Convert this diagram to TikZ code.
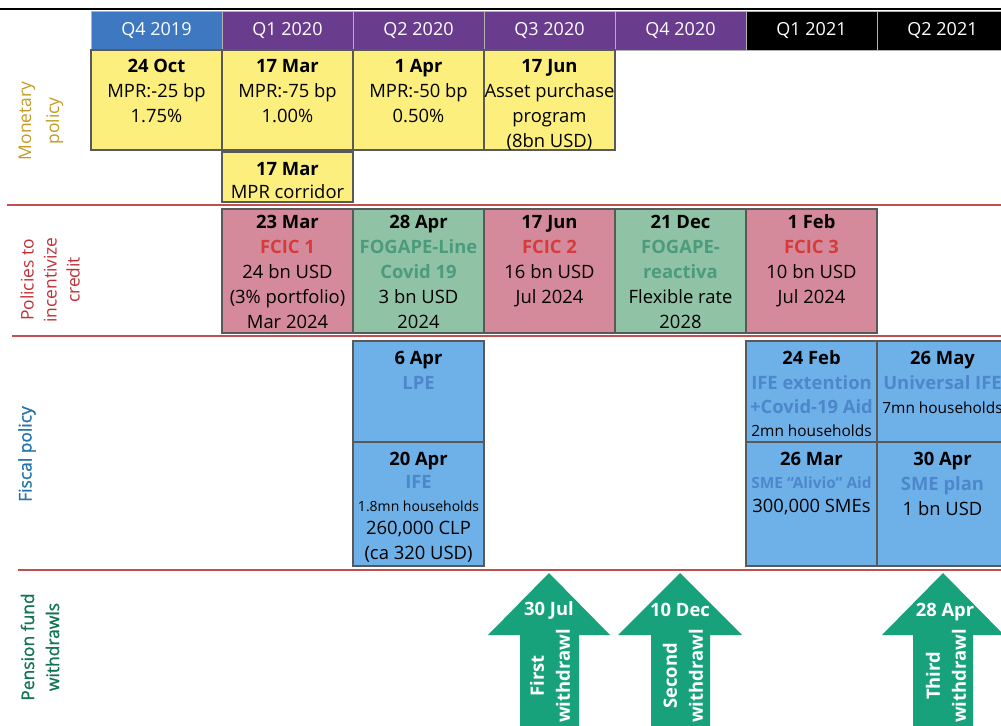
\documentclass[tikz,border=0pt]{standalone}
\usepackage{fontspec}
\setmainfont{Open Sans}
\usetikzlibrary{positioning}
\definecolor{qblue}{HTML}{3D78C1}
\definecolor{qpurple}{HTML}{6A3C8E}
\definecolor{monyellow}{HTML}{FCEF7E}
\definecolor{crdpink}{HTML}{D58A9B}
\definecolor{crdgreen}{HTML}{90C2A6}
\definecolor{fisblue}{HTML}{6EB1E8}
\definecolor{arrgreen}{HTML}{17A27C}
\definecolor{sepred}{HTML}{C0504D}
\definecolor{lblgold}{HTML}{C49A22}
\definecolor{lblred}{HTML}{BF3036}
\definecolor{lblblue}{HTML}{2475AE}
\definecolor{lblgreen}{HTML}{137452}
\definecolor{txtred}{HTML}{D63B3B}
\definecolor{txtgreen}{HTML}{4C9B7C}
\definecolor{txtblue}{HTML}{4E86CB}
\definecolor{boxframe}{HTML}{595959}
\newcommand{\evt}[3][11]{\parbox[c][#2][t]{65.5pt}{\centering\rule{0pt}{#1pt}#3}}
\newcommand{\evhl}[2]{\textbf{\color{#1}#2}}
\newcommand{\smtxt}[1]{{\fontsize{7.7}{9}\selectfont #1}}

\begin{document}
\begin{tikzpicture}[x=0.5pt,y=-0.5pt,
  qhead/.style={draw=gray!60,line width=0.4pt,text=white,inner sep=0pt,outer sep=0pt,
    minimum width=65.5pt,minimum height=19.5pt,font=\fontsize{9}{11}\selectfont},
  evbox/.style={draw=boxframe,line width=0.6pt,inner sep=0pt,outer sep=0pt,
    font=\fontsize{9.2}{12.5}\selectfont},
  rowlbl/.style={rotate=90,align=center,font=\fontsize{8.7}{12.5}\selectfont\addfontfeatures{FakeBold=1.2}},
  arrtxt/.style={text=white,font=\bfseries\fontsize{9.2}{13}\selectfont},
  sepline/.style={sepred,line width=1.4pt}]
\useasboundingbox (0,0) rectangle (1001,726);
%top rule
\draw[black,line width=0.7pt] (0,9) -- (1001,9);
%the quarters
\node[qhead,fill=qblue,anchor=north west] (hdrQ419) at (91,11) {Q4 2019};
\node[qhead,fill=qpurple,right=0pt of hdrQ419] (hdrQ120) {Q1 2020};
\node[qhead,fill=qpurple,right=0pt of hdrQ120] (hdrQ220) {Q2 2020};
\node[qhead,fill=qpurple,right=0pt of hdrQ220] (hdrQ320) {Q3 2020};
\node[qhead,fill=qpurple,right=0pt of hdrQ320] (hdrQ420) {Q4 2020};
\node[qhead,fill=black,right=0pt of hdrQ420] (hdrQ121) {Q1 2021};
\node[qhead,fill=black,right=0pt of hdrQ121] (hdrQ221) {Q2 2021};

%monetary policy
\node[evbox,fill=monyellow,below=0pt of hdrQ419] (monQ419) {\evt[11.3]{50pt}{\textbf{24 Oct}\\MPR:-25 bp\\1.75\%}};
\node[evbox,fill=monyellow,below=0pt of hdrQ120] (monQ120) {\evt[11.3]{50pt}{\textbf{17 Mar}\\MPR:-75 bp\\1.00\%}};
\node[evbox,fill=monyellow,below=0pt of hdrQ220] (monQ220) {\evt[11.3]{50pt}{\textbf{1 Apr}\\MPR:-50 bp\\0.50\%}};
\node[evbox,fill=monyellow,below=0pt of hdrQ320] (monQ320) {\evt[11.3]{50pt}{\textbf{17 Jun}\\Asset purchase\\program\\(8bn USD)}};
\node[evbox,fill=monyellow,below=1pt of monQ120] (monQ120b) {\evt[11.8]{25pt}{\textbf{17 Mar}\\[-1pt]MPR corridor}};

%credit
\node[evbox,fill=crdpink,anchor=north west] (crdQ120) at (222,209) {\evt[9.6]{62pt}{\textbf{23 Mar}\\\evhl{txtred}{FCIC 1}\\24 bn USD\\(3\% portfolio)\\Mar 2024}};
\node[evbox,fill=crdgreen,right=0pt of crdQ120] (crdQ220) {\evt[9.6]{62pt}{\textbf{28 Apr}\\\evhl{txtgreen}{FOGAPE-Line}\\\evhl{txtgreen}{Covid 19}\\3 bn USD\\2024}};
\node[evbox,fill=crdpink,right=0pt of crdQ220] (crdQ320) {\evt[9.6]{62pt}{\textbf{17 Jun}\\\evhl{txtred}{FCIC 2}\\16 bn USD\\Jul 2024}};
\node[evbox,fill=crdgreen,right=0pt of crdQ320] (crdQ420) {\evt[9.6]{62pt}{\textbf{21 Dec}\\\evhl{txtgreen}{FOGAPE-}\\\evhl{txtgreen}{reactiva}\\Flexible rate\\2028}};
\node[evbox,fill=crdpink,right=0pt of crdQ420] (crdQ121) {\evt[9.6]{62pt}{\textbf{1 Feb}\\\evhl{txtred}{FCIC 3}\\10 bn USD\\Jul 2024}};

%fiscal policy
\node[evbox,fill=fisblue,anchor=north west] (fisQ220a) at (353,341) {\evt[12]{50.5pt}{\textbf{6 Apr}\\\evhl{txtblue}{LPE}}};
\node[evbox,fill=fisblue,below=0pt of fisQ220a] (fisQ220b) {\evt[12]{62pt}{\textbf{20 Apr}\\[-1pt]\evhl{txtblue}{IFE}\\[-1pt]{\fontsize{7}{9}\selectfont 1.8mn households}\\[-1pt]260,000 CLP\\(ca 320 USD)}};
\node[evbox,fill=fisblue,anchor=north west] (fisQ121a) at (746,341) {\evt[12]{50.5pt}{\textbf{24 Feb}\\\evhl{txtblue}{IFE extention}\\[-0.5pt]\evhl{txtblue}{+Covid-19 Aid}\\[-1pt]\smtxt{2mn households}}};
\node[evbox,fill=fisblue,below=0pt of fisQ121a] (fisQ121b) {\evt[12]{62pt}{\textbf{26 Mar}\\[-1pt]\smtxt{\bfseries\color{txtblue}SME “Alivio” Aid}\\[-0.5pt]300,000 SMEs}};
\node[evbox,fill=fisblue,right=0pt of fisQ121a] (fisQ221a) {\evt[12]{50.5pt}{\textbf{26 May}\\\evhl{txtblue}{Universal IFE}\\[-0.5pt]\smtxt{7mn households}}};
\node[evbox,fill=fisblue,below=0pt of fisQ221a] (fisQ221b) {\evt[12]{62pt}{\textbf{30 Apr}\\\evhl{txtblue}{SME plan}\\1 bn USD}};

%separators
\draw[sepline] (7,205) -- (1001,205);
\draw[sepline] (12,336) -- (1001,336);
\draw[sepline] (18,570) -- (1001,570);

%row labels
\node[rowlbl,text=lblgold,font=\fontsize{8.7}{14}\selectfont] (lblMon) at (41,121) {Monetary\\policy};
\node[rowlbl,text=lblred,font=\fontsize{8.7}{11.5}\selectfont] (lblCrd) at (50,280) {Policies to\\incentivize\\credit};
\node[rowlbl,text=lblblue] (lblFis) at (27,454) {Fiscal policy};
\node[rowlbl,text=lblgreen] (lblPen) at (40,647) {Pension fund\\withdrawls};

%pension fund withdrawals
\fill[arrgreen] (520,730) -- (520,635) -- (488,635) -- (549,573) -- (610,635) -- (579,635) -- (579,730) -- cycle;
\fill[arrgreen] (651,730) -- (651,635) -- (618,635) -- (680,573) -- (742,635) -- (710,635) -- (710,730) -- cycle;
\fill[arrgreen] (913,730) -- (913,635) -- (882,635) -- (943,573) -- (1004,635) -- (973,635) -- (973,730) -- cycle;
\node[arrtxt] (wdFirstDate) at (549,610) {30 Jul};
\node[arrtxt,rotate=90,align=center] (wdFirst) at (550,676) {First\\withdrawl};
\node[arrtxt] (wdSecondDate) at (680,610) {10 Dec};
\node[arrtxt,rotate=90,align=center] (wdSecond) at (683,676) {Second\\withdrawl};
\node[arrtxt] (wdThirdDate) at (945,612) {28 Apr};
\node[arrtxt,rotate=90,align=center] (wdThird) at (946,676) {Third\\withdrawl};
\end{tikzpicture}
\end{document}
